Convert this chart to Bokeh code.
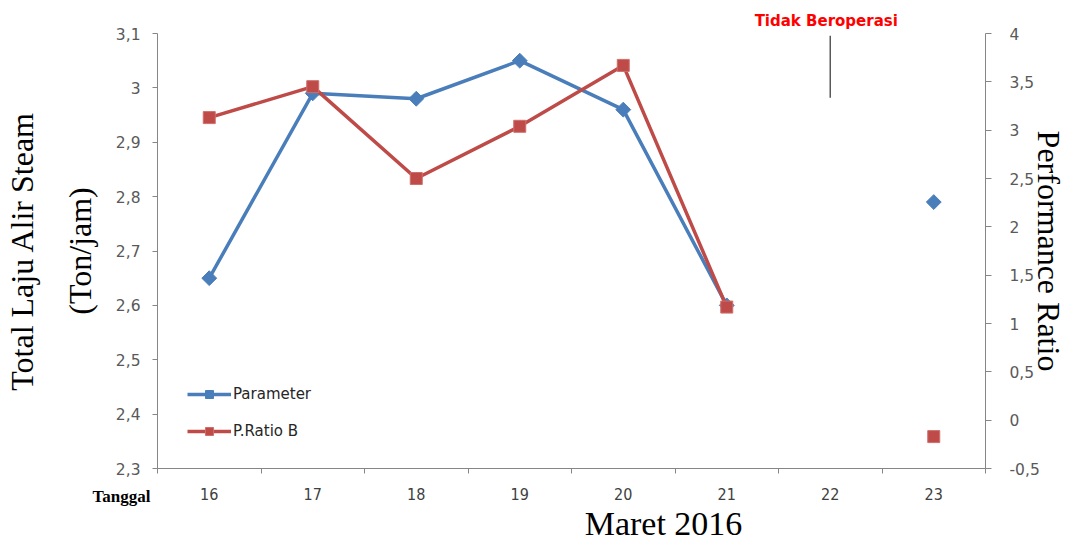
import math
from bokeh.plotting import figure
from bokeh.models import (Range1d, LinearAxis, FixedTicker, CustomJSTickFormatter,
                          Legend, LegendItem, Label, ColumnDataSource)
from bokeh.embed import file_html
from bokeh.resources import INLINE

# ---- data ----
dates = [16, 17, 18, 19, 20, 21, 22, 23]
parameter = [2.65, 2.99, 2.98, 3.05, 2.96, 2.60, math.nan, 2.79]
p_ratio_b = [3.13, 3.45, 2.50, 3.04, 3.67, 1.17, math.nan, -0.17]
left_ticks = [2.3, 2.4, 2.5, 2.6, 2.7, 2.8, 2.9, 3.0, 3.1]
right_ticks = [-0.5, 0, 0.5, 1, 1.5, 2, 2.5, 3, 3.5, 4]
note_text = "Tidak Beroperasi"
note_date = 22
x_title = "Maret 2016"

BLUE = "#4A7EBB"
RED = "#BE4B48"
AX = "#868686"

# ---- layout (canvas pixels) ----
W, H = 1070, 546
AX_L, AX_R, AX_T, AX_B = 157, 985, 33, 468   # axis box inside canvas
xlo, xhi = 15.5, 23.5
ylo, yhi = 2.3, 3.1
rlo, rhi = -0.5, 4.0

def extend(lo, hi, p_lo, p_hi, total):
    s = (hi - lo) / (p_hi - p_lo)
    return lo - p_lo * s, hi + (total - p_hi) * s

x0, x1 = extend(xlo, xhi, AX_L, AX_R, W)
y0, y1 = extend(ylo, yhi, H - AX_B, H - AX_T, H)
r0, r1 = extend(rlo, rhi, H - AX_B, H - AX_T, H)

src = ColumnDataSource(dict(x=dates, par=parameter, pr=p_ratio_b))

p = figure(width=W, height=H,
           x_range=Range1d(x0, x1), y_range=Range1d(y0, y1),
           output_backend="svg", toolbar_location=None,
           min_border=0, min_border_left=0, min_border_right=0,
           min_border_top=0, min_border_bottom=0,
           background_fill_color="white", border_fill_color="white")
p.outline_line_color = None
p.xgrid.visible = False
p.ygrid.visible = False
p.extra_y_ranges = {"pr": Range1d(r0, r1)}

fmt = CustomJSTickFormatter(code="return (Math.round(tick*10)/10).toString().replace('.', ',');")

# left axis
ya = p.yaxis[0]
ya.fixed_location = xlo
ya.bounds = (ylo, yhi)
ya.ticker = FixedTicker(ticks=left_ticks)
ya.formatter = fmt
ya.axis_line_color = AX
ya.major_tick_line_color = AX
ya.major_tick_out = 5
ya.major_tick_in = 0
ya.minor_tick_line_color = None
ya.major_label_text_font = "DejaVu Sans"
ya.major_label_text_font_size = "15.5px"
ya.major_label_text_color = "#595959"
ya.major_label_standoff = 12
ya.axis_label = "Total Laju Alir Steam\n(Ton/jam)"
ya.axis_label_text_font = "Liberation Serif"
ya.axis_label_text_font_style = "normal"
ya.axis_label_text_font_size = "32px"
ya.axis_label_text_color = "black"
ya.axis_label_text_line_height = 1.62
ya.axis_label_standoff = 15

# right axis
ra = LinearAxis(y_range_name="pr", ticker=FixedTicker(ticks=right_ticks), formatter=fmt)
ra.fixed_location = xhi
ra.bounds = (rlo, rhi)
ra.axis_line_color = AX
ra.major_tick_line_color = AX
ra.major_tick_out = 6
ra.major_tick_in = 0
ra.minor_tick_line_color = None
ra.major_label_text_font = "DejaVu Sans"
ra.major_label_text_font_size = "15.5px"
ra.major_label_text_color = "#595959"
ra.major_label_standoff = 18
ra.axis_label = "Performance Ratio"
ra.axis_label_text_font = "Liberation Serif"
ra.axis_label_text_font_style = "normal"
ra.axis_label_text_font_size = "32px"
ra.axis_label_text_color = "black"
ra.axis_label_standoff = -12
p.add_layout(ra, "right")

# x axis
xa = p.xaxis[0]
xa.fixed_location = ylo
xa.bounds = (xlo, xhi)
xa.ticker = FixedTicker(ticks=dates, minor_ticks=[d - 0.5 for d in dates] + [dates[-1] + 0.5])
xa.axis_line_color = AX
xa.major_tick_out = 0
xa.major_tick_in = 0
xa.minor_tick_line_color = AX
xa.minor_tick_out = 5
xa.minor_tick_in = 0
xa.major_label_text_font = "DejaVu Sans Condensed"
xa.major_label_text_font_size = "16px"
xa.major_label_text_color = "#404040"
xa.major_label_standoff = 14

# series
l1 = p.line("x", "par", source=src, line_color=BLUE, line_width=3.5)
s1 = p.scatter("x", "par", source=src, marker="square", angle=math.pi / 4, size=10.5,
               fill_color=BLUE, line_color=BLUE)
l2 = p.line("x", "pr", source=src, line_color=RED, line_width=3.5, y_range_name="pr")
s2 = p.scatter("x", "pr", source=src, marker="square", size=12,
               fill_color=RED, line_color="#CF6F6C", y_range_name="pr")

legend = Legend(items=[LegendItem(label="Parameter", renderers=[l1, s1]),
                       LegendItem(label="P.Ratio B", renderers=[l2, s2])],
                location=(187, 105), orientation="vertical",
                background_fill_alpha=0, border_line_color=None,
                glyph_width=44, glyph_height=20, spacing=17, padding=0, margin=0,
                label_standoff=2, label_text_font="DejaVu Sans",
                label_text_font_size="15px", label_text_color="#262626",
                label_height=20)
p.add_layout(legend)

# annotations
p.segment(x0=[note_date], y0=[3.096], x1=[note_date], y1=[2.982],
          line_color="#595959", line_width=1.5)
p.add_layout(Label(x=note_date, y=yhi, x_offset=-4, y_offset=13, text=note_text,
                   text_align="center", text_baseline="middle",
                   text_font="DejaVu Sans", text_font_style="bold",
                   text_font_size="15px", text_color="#FF0000"))
p.add_layout(Label(x=xlo, y=ylo, x_offset=-7, y_offset=-28, text="Tanggal",
                   text_align="right", text_baseline="middle",
                   text_font="Liberation Serif", text_font_style="bold",
                   text_font_size="17px", text_color="black"))
p.add_layout(Label(x=(xlo + xhi) / 2, y=ylo, x_offset=92, y_offset=-55, text=x_title,
                   text_align="center", text_baseline="middle",
                   text_font="Liberation Serif", text_font_size="34px",
                   text_line_height=1.0, text_color="black"))

open("out.html", "w").write(file_html(p, INLINE))
